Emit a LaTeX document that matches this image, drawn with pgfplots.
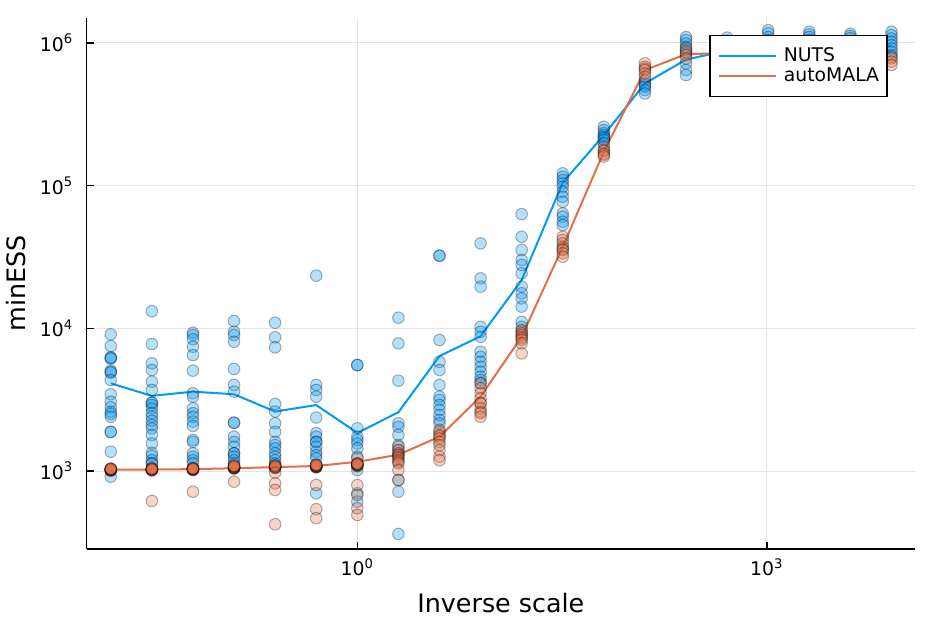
\documentclass[border=0pt]{standalone}
\usepackage{pgfplots}
\pgfplotsset{compat=1.18}
\usepackage{pgfplotstable}
\usepackage{fontspec}
\setmainfont{DejaVu Sans}
\definecolor{nuts}{RGB}{0,154,250}
\definecolor{mala}{RGB}{227,111,71}

\pgfplotstableread{
x y
0.015625 9080
0.015625 7510
0.015625 6270
0.015625 6130
0.015625 6200
0.015625 5050
0.015625 4890
0.015625 4950
0.015625 4340
0.015625 3450
0.015625 3060
0.015625 2800
0.015625 2600
0.015625 2510
0.015625 2400
0.015625 1880
0.015625 1880
0.015625 1365
0.015625 912
0.03125 13200
0.03125 7760
0.03125 5690
0.03125 5100
0.03125 4230
0.03125 3700
0.03125 3010
0.03125 3010
0.03125 2900
0.03125 2750
0.03125 2540
0.03125 2400
0.03125 2250
0.03125 2100
0.03125 1990
0.03125 1790
0.03125 1560
0.03125 1340
0.03125 1280
0.03125 1190
0.03125 1130
0.03125 1130
0.0625 9310
0.0625 8970
0.0625 8380
0.0625 7430
0.0625 6500
0.0625 5050
0.0625 3510
0.0625 3320
0.0625 2750
0.0625 2540
0.0625 2400
0.0625 2220
0.0625 2070
0.0625 1650
0.0625 1600
0.0625 1330
0.0625 1260
0.0625 1190
0.0625 1130
0.125 11250
0.125 9460
0.125 8970
0.125 8050
0.125 5190
0.125 4010
0.125 3600
0.125 2180
0.125 2180
0.125 1740
0.125 1600
0.125 1480
0.125 1330
0.125 1330
0.125 1260
0.125 1190
0.125 1130
0.25 10950
0.25 8650
0.25 7360
0.25 2950
0.25 2610
0.25 2160
0.25 1880
0.25 1600
0.25 1520
0.25 1440
0.25 1330
0.25 1260
0.25 1190
0.25 1130
0.25 1084
0.5 23400
0.5 4010
0.5 3700
0.5 3320
0.5 2370
0.5 1840
0.5 1740
0.5 1600
0.5 1600
0.5 1480
0.5 1365
0.5 1295
0.5 1227
0.5 698
1 5530
1 5530
1 1990
1 1740
1 1650
1 1560
1 1440
1 1260
1 1130
1 1016
1 698
1 610
2 11870
2 7850
2 4300
2 2160
2 2040
2 1790
2 1520
2 1400
2 1295
2 865
2 716
2 362
4 32300
4 32300
4 8280
4 5830
4 5100
4 4010
4 3320
4 3150
4 2900
4 2680
4 2470
4 2280
4 2160
8 39400
8 22400
8 19600
8 10250
8 9460
8 8730
8 6850
8 6320
8 5830
8 5380
8 4970
8 4580
8 4340
8 4120
16 63200
16 43800
16 35400
16 30100
16 27800
16 24300
16 19600
16 17600
16 16200
16 14200
16 11100
16 10250
32 122000
32 115400
32 109400
32 103700
32 98200
32 90600
32 83600
32 77100
32 63900
32 60600
32 55900
32 53000
64 259000
64 245000
64 233000
64 226000
64 220000
64 215000
64 209000
64 198000
128 550000
128 521000
128 505000
128 493000
128 468000
128 443000
256 1100000
256 1050000
256 993000
256 940000
256 891000
256 845000
256 720000
256 646000
256 596000
512 1090000
512 1040000
512 990000
512 940000
512 900000
1024 1230000
1024 1170000
1024 1100000
1024 1050000
1024 980000
1024 920000
2048 1200000
2048 1150000
2048 1100000
2048 1050000
2048 980000
4096 1160000
4096 1120000
4096 1080000
4096 1000000
4096 950000
8192 1200000
8192 1135000
8192 1076000
8192 1020000
8192 967000
8192 916000
8192 867000
8192 823000
}\nutspts

\pgfplotstableread{
x y
0.015625 1005
0.015625 1010
0.015625 1015
0.015625 1020
0.015625 1022
0.015625 1025
0.015625 1028
0.015625 1030
0.015625 1035
0.015625 1040
0.03125 1010
0.03125 1015
0.03125 1020
0.03125 1025
0.03125 1028
0.03125 1030
0.03125 1035
0.03125 1040
0.03125 1045
0.03125 1020
0.03125 617
0.0625 1015
0.0625 1020
0.0625 1025
0.0625 1030
0.0625 1033
0.0625 1036
0.0625 1040
0.0625 1045
0.0625 1050
0.0625 1030
0.0625 716
0.125 1040
0.125 1045
0.125 1050
0.125 1055
0.125 1060
0.125 1065
0.125 1070
0.125 1075
0.125 1085
0.125 1090
0.125 841
0.25 1050
0.25 1055
0.25 1060
0.25 1065
0.25 1070
0.25 1075
0.25 1085
0.25 1095
0.25 973
0.25 820
0.25 736
0.25 423
0.5 1060
0.5 1065
0.5 1070
0.5 1075
0.5 1080
0.5 1085
0.5 1090
0.5 1095
0.5 1100
0.5 1110
0.5 798
0.5 540
0.5 467
1 1227
1 1080
1 1090
1 1100
1 1105
1 1110
1 1115
1 1120
1 1130
1 798
1 679
1 548
1 492
2 1480
2 1400
2 1330
2 1300
2 1260
2 1230
2 1190
2 1160
2 1130
2 1016
2 865
4 1940
4 1880
4 1790
4 1750
4 1690
4 1600
4 1520
4 1400
4 1260
4 1190
8 4120
8 3800
8 3510
8 3230
8 3000
8 2980
8 2750
8 2600
8 2540
8 2400
16 9730
16 9500
16 9220
16 9000
16 8730
16 8500
16 8280
16 7850
16 6680
32 43800
32 41600
32 39400
32 37300
32 36000
32 35400
32 33600
32 31800
64 187000
64 178000
64 175000
64 168000
64 165000
64 160000
128 720000
128 681000
128 660000
128 646000
128 612000
128 580000
256 916000
256 867000
256 823000
256 780000
512 880000
512 850000
512 820000
1024 870000
1024 840000
1024 820000
2048 880000
2048 850000
2048 830000
4096 870000
4096 840000
4096 820000
8192 800000
8192 780000
8192 740000
8192 701000
}\malapts

\pgfplotstableread{
x y
0.015625 4120
0.03125 3360
0.0625 3600
0.125 3450
0.25 2610
0.5 2900
1 1850
2 2580
4 6390
8 8800
16 21800
32 105000
64 226000
128 521000
256 765000
512 885000
1024 920000
2048 940000
4096 950000
8192 960000
}\nutsline

\pgfplotstableread{
x y
0.015625 1020
0.03125 1025
0.0625 1030
0.125 1045
0.25 1065
0.5 1084
1 1160
2 1300
4 1740
8 3320
16 8730
32 37300
64 173000
128 646000
256 835000
512 850000
1024 860000
2048 865000
4096 870000
8192 870000
}\malaline

\begin{document}
\begin{tikzpicture}
\path[use as bounding box] (-43.35pt,-37pt) rectangle (423.65pt,274.5pt);
\begin{axis}[
  scale only axis,
  width=414.15pt, height=265.5pt,
  xmode=log, ymode=log,
  xmin=0.01041, xmax=12180,
  ymin=284, ymax=1497000,
  axis x line*=bottom, axis y line*=left,
  axis line style={-, line width=0.8pt, black},
  tick align=inside,
  major tick length=3.5pt,
  every tick/.style={black, line width=0.8pt},
  xminorticks=false, yminorticks=false,
  xtick={1,1000},
  xticklabels={10\textsuperscript{0},10\textsuperscript{3}},
  ytick={1000,10000,100000,1000000},
  yticklabels={10\textsuperscript{3},10\textsuperscript{4},10\textsuperscript{5},10\textsuperscript{6}},
  tick label style={font=\fontsize{9.4}{11}\selectfont},
  xticklabel style={anchor=north, inner sep=0pt, yshift=-4.5pt},
  yticklabel style={anchor=east, inner sep=0pt, xshift=-6.5pt},
  grid=major,
  major grid style={black!10, line width=0.5pt},
  xlabel={Inverse scale},
  ylabel={minESS},
  label style={font=\fontsize{12.7}{15}\selectfont},
  xlabel style={at={(axis description cs:0.5,0)}, anchor=base, yshift=-31.65pt},
  ylabel style={at={(axis description cs:-0.0854,0.5)}, anchor=center},
  legend style={at={(0.967,0.968)}, anchor=north east, draw=black, line width=0.65pt, fill=white,
    font=\fontsize{9.4}{11}\selectfont, inner xsep=4pt, inner ysep=5.25pt,
    row sep=0pt, column sep=3.5pt,
    nodes={inner sep=0pt, text height=7.5pt, text depth=2.5pt}},
  legend cell align=left,
  legend image code/.code={\draw[#1] (0pt,0pt) -- (28.5pt,0pt);},
]
\addplot[only marks, mark=*, mark size=2.9pt,
  mark options={fill=nuts, fill opacity=0.3, draw=black, draw opacity=0.3, line width=0.5pt},
  forget plot] table {\nutspts};
\addplot[only marks, mark=*, mark size=2.9pt,
  mark options={fill=mala, fill opacity=0.3, draw=black, draw opacity=0.3, line width=0.5pt},
  forget plot] table {\malapts};
\addplot[nuts, line width=1pt, no marks] table {\nutsline};
\addlegendentry{NUTS}
\addplot[mala, line width=1pt, no marks] table {\malaline};
\addlegendentry{autoMALA}
\end{axis}
\end{tikzpicture}
\end{document}
